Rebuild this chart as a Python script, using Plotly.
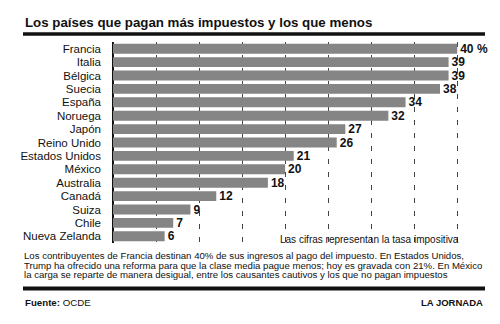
import plotly.graph_objects as go

countries = ["Francia", "Italia", "Bélgica", "Suecia", "España", "Noruega", "Japón",
             "Reino Unido", "Estados Unidos", "México", "Australia", "Canadá", "Suiza",
             "Chile", "Nueva Zelanda"]
values = [40, 39, 39, 38, 34, 32, 27, 26, 21, 20, 18, 12, 9, 7, 6]
labels = ["40 %"] + [str(v) for v in values[1:]]

title = "Los países que pagan más impuestos y los que menos"
note = "Las cifras representan la tasa impositiva"
para = ["Los contribuyentes de Francia destinan 40% de sus ingresos al pago del impuesto. En Estados Unidos,",
        "Trump ha ofrecido una reforma para que la clase media pague menos; hoy es gravada con 21%. En México",
        "la carga se reparte de manera desigual, entre los causantes cautivos y los que no pagan impuestos"]

FONT = "Liberation Sans, Arial, Helvetica, sans-serif"

W, H = 500, 324
L, R, T, B = 113, 17, 42, 81
pw, ph = W - L - R, H - T - B


def px(x):
    return (x - L) / pw


def py(y):
    return (H - B - y) / ph


fig = go.Figure(go.Bar(
    x=values, y=countries, orientation="h",
    marker=dict(color="#858585", line=dict(width=0)),
    text=labels, textposition="outside", cliponaxis=False, constraintext="none",
    textfont=dict(family=FONT, size=12, color="#111", weight="bold"),
    width=0.74,
))

fig.update_layout(
    width=W, height=H,
    margin=dict(l=L, r=R, t=T, b=B, autoexpand=False),
    paper_bgcolor="white", plot_bgcolor="white",
    showlegend=False,
    font=dict(family=FONT, color="#111"),
    xaxis=dict(range=[0, 43], dtick=5, showgrid=True, gridcolor="#444", gridwidth=1,
               griddash="5px,8px", zeroline=True, zerolinecolor="#111", zerolinewidth=1.5,
               showticklabels=False, ticks="", showline=False, fixedrange=True),
    yaxis=dict(categoryorder="array", categoryarray=countries, autorange="reversed",
               tickmode="array", tickvals=countries, ticktext=countries,
               showgrid=False, ticks="", ticklabelstandoff=11,
               tickfont=dict(family=FONT, size=11.5, color="#111"), showline=False),
    bargap=0.26,
)

fig.add_annotation(text="<b>" + title + "</b>", x=px(23), y=py(22), xref="paper", yref="paper",
                   showarrow=False, xanchor="left", yanchor="middle",
                   font=dict(family=FONT, size=13.3, color="#111"))
fig.add_shape(type="line", xref="paper", yref="paper", x0=px(23), x1=px(485), y0=py(34), y1=py(34),
              line=dict(color="#111", width=3.5))
fig.add_shape(type="line", xref="paper", yref="paper", x0=px(23), x1=px(485), y0=py(288.5), y1=py(288.5),
              line=dict(color="#111", width=4))
fig.add_annotation(text=note, x=px(461), y=py(239), xref="paper", yref="paper", showarrow=False,
                   xanchor="right", yanchor="middle", font=dict(family=FONT, size=10, color="#111"))
for i, line in enumerate(para):
    fig.add_annotation(text=line, x=px(23), y=py(255.5 + i * 9.7), xref="paper", yref="paper",
                       showarrow=False, xanchor="left", yanchor="middle", borderpad=0,
                       font=dict(family=FONT, size=9.6, color="#111"))
fig.add_annotation(text="<b>Fuente:</b> OCDE", x=px(23), y=py(302), xref="paper", yref="paper",
                   showarrow=False, xanchor="left", yanchor="middle",
                   font=dict(family=FONT, size=9.7, color="#111"))
fig.add_annotation(text="<b>LA JORNADA</b>", x=px(485), y=py(302), xref="paper", yref="paper",
                   showarrow=False, xanchor="right", yanchor="middle",
                   font=dict(family=FONT, size=9.5, color="#111"))

fig.write_html("out.html")
